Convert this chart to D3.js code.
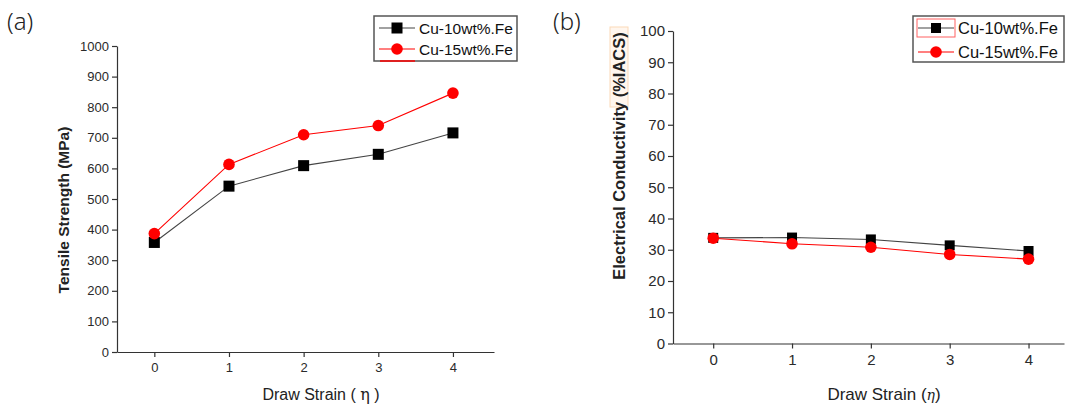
<!DOCTYPE html>
<html>
<head>
<meta charset="utf-8">
<script src="https://cdn.jsdelivr.net/npm/d3@7"></script>
<style>
  body { margin: 0; background: #fff; }
  svg { display: block; font-family: Arial, "Liberation Sans", sans-serif; }
</style>
</head>
<body>
<svg id="chart" width="1066" height="406"></svg>
<script>
'use strict';

// draw strain (eta)
const strains = [0, 1, 2, 3, 4];
const seriesNames = ['Cu-10wt%.Fe', 'Cu-15wt%.Fe'];

// (a) tensile strength, MPa
const tensile10 = [358, 542, 609, 646, 716];
const tensile15 = [387, 613, 710, 740, 846];
const tensileTicks = [0, 100, 200, 300, 400, 500, 600, 700, 800, 900, 1000];

// (b) electrical conductivity, %IACS
const conduct10 = [33.8, 33.9, 33.3, 31.4, 29.6];
const conduct15 = [33.7, 31.9, 30.8, 28.5, 27.0];
const conductTicks = [0, 10, 20, 30, 40, 50, 60, 70, 80, 90, 100];

const AXIS = '#333';
const BLACK = '#000';
const RED = '#ff0000';

const svg = d3.select('#chart');

const drawPanel = (cfg) => {
  const g = svg.append('g');
  const x = d3.scaleLinear().domain(cfg.xDomain).range(cfg.xRange);
  const y = d3.scaleLinear().domain(cfg.yDomain).range(cfg.yRange);

  // axes
  const yAxis = g.append('g')
    .attr('transform', `translate(${cfg.xRange[0]},0)`)
    .call(d3.axisLeft(y).tickValues(cfg.yTicks).tickFormat(d3.format('d'))
      .tickSize(5).tickPadding(3).tickSizeOuter(0));
  const xAxis = g.append('g')
    .attr('transform', `translate(0,${cfg.yRange[0]})`)
    .call(d3.axisBottom(x).tickValues(strains).tickFormat(d3.format('d'))
      .tickSize(5).tickPadding(6).tickSizeOuter(0));
  [xAxis, yAxis].forEach((ax) => {
    ax.select('.domain').attr('stroke', AXIS).attr('stroke-width', 1.2);
    ax.selectAll('.tick line').attr('stroke', AXIS).attr('stroke-width', 1.2);
    ax.selectAll('.tick text')
      .attr('fill', '#2a2a2a')
      .style('font-size', `${cfg.tickFont}px`)
      .style('font-family', 'Arial, "Liberation Sans", sans-serif');
  });

  // series
  const series = [
    { name: seriesNames[0], values: cfg.s10, color: BLACK, line: '#444', shape: 'square' },
    { name: seriesNames[1], values: cfg.s15, color: RED, line: RED, shape: 'circle' },
  ];
  const line = d3.line().x((d, i) => x(strains[i])).y((d) => y(d));
  series.forEach((s) => {
    g.append('path')
      .attr('d', line(s.values))
      .attr('fill', 'none')
      .attr('stroke', s.line)
      .attr('stroke-width', 1.1);
  });
  const drawMarker = (sel, s, cx, cy) => {
    if (s.shape === 'square') {
      sel.append('rect')
        .attr('x', cx - cfg.sq / 2).attr('y', cy - cfg.sq / 2)
        .attr('width', cfg.sq).attr('height', cfg.sq)
        .attr('fill', s.color);
    } else {
      sel.append('circle')
        .attr('cx', cx).attr('cy', cy).attr('r', cfg.r)
        .attr('fill', s.color);
    }
  };
  series.forEach((s) => {
    s.values.forEach((v, i) => drawMarker(g, s, x(strains[i]), y(v)));
  });

  // legend
  const lg = cfg.legend;
  const leg = g.append('g');
  leg.append('rect')
    .attr('x', lg.x).attr('y', lg.y).attr('width', lg.w).attr('height', lg.h)
    .attr('fill', '#fff').attr('stroke', '#555').attr('stroke-width', 1.5);
  series.forEach((s, i) => {
    const ry = lg.y + lg.rows[i];
    leg.append('line')
      .attr('x1', lg.x + 5).attr('x2', lg.x + 41)
      .attr('y1', ry).attr('y2', ry)
      .attr('stroke', s.line).attr('stroke-width', 1.2);
    drawMarker(leg, s, lg.x + 23, ry);
    leg.append('text')
      .attr('x', lg.x + lg.textX).attr('y', ry)
      .attr('dy', '0.36em')
      .attr('fill', '#111')
      .style('font-size', `${lg.font}px`)
      .text(s.name);
  });
  if (lg.underline) {
    leg.append('line')
      .attr('x1', lg.x + 6).attr('x2', lg.x + 41)
      .attr('y1', lg.y + lg.h).attr('y2', lg.y + lg.h)
      .attr('stroke', RED).attr('stroke-width', 1.5);
  }
  if (lg.redBox) {
    leg.append('rect')
      .attr('x', lg.x + 4).attr('y', lg.y + 3).attr('width', 38).attr('height', 18)
      .attr('fill', 'none').attr('stroke', '#ff6060').attr('stroke-width', 1);
  }

  // axis titles
  const midY = (cfg.yRange[0] + cfg.yRange[1]) / 2;
  if (cfg.yHighlight) {
    g.append('rect')
      .attr('x', cfg.yTitleX - 9).attr('y', cfg.yHighlight[0])
      .attr('width', 18).attr('height', cfg.yHighlight[1] - cfg.yHighlight[0])
      .attr('fill', '#fff6ee')
      .attr('stroke', '#fbd9b8')
      .attr('stroke-width', 1);
  }
  g.append('text')
    .attr('transform', `translate(${cfg.yTitleX},${cfg.yTitleY ?? midY}) rotate(-90)`)
    .attr('text-anchor', 'middle')
    .attr('dy', '0.36em')
    .attr('fill', '#222')
    .style('font-size', `${cfg.yTitleFont}px`)
    .style('font-weight', 'bold')
    .text(cfg.yTitle);
  const xt = g.append('text')
    .attr('x', cfg.xTitleX).attr('y', cfg.xTitleY)
    .attr('text-anchor', 'middle')
    .attr('fill', '#222')
    .style('font-size', `${cfg.xTitleFont}px`);
  xt.append('tspan').text(cfg.xTitle[0]);
  xt.append('tspan').style('font-family', 'DejaVu Serif, serif')
    .style('font-style', cfg.etaItalic ? 'italic' : 'normal')
    .style('font-size', `${cfg.xTitleFont - (cfg.etaItalic ? 3 : 0)}px`)
    .text(cfg.xTitle[1]);
  xt.append('tspan').text(cfg.xTitle[2]);

  // panel tag
  g.append('text')
    .attr('x', cfg.tagX).attr('y', 30)
    .attr('fill', '#222')
    .style('font-family', '"Noto Sans", sans-serif')
    .style('font-weight', 300)
    .style('font-size', '24px')
    .text(cfg.tag);
};

drawPanel({
  tag: '(a)', tagX: 7,
  xDomain: [-0.5, 4.55], xRange: [117, 494],
  yDomain: [0, 1000], yRange: [352, 46],
  yTicks: tensileTicks, tickFont: 13,
  s10: tensile10, s15: tensile15,
  sq: 11, r: 5.8,
  yTitle: 'Tensile Strength (MPa)', yTitleX: 63, yTitleY: 210, yTitleFont: 15.5,
  xTitle: ['Draw Strain ( ', 'η', ' )'], xTitleX: 321, xTitleY: 400, xTitleFont: 16,
  etaItalic: false,
  legend: { x: 374, y: 16, w: 143, h: 45, rows: [12, 33], textX: 45, font: 15.5, underline: true },
});

drawPanel({
  tag: '(b)', tagX: 553,
  xDomain: [-0.51, 4.45], xRange: [673, 1064],
  yDomain: [0, 100], yRange: [343.5, 31],
  yTicks: conductTicks, tickFont: 15,
  s10: conduct10, s15: conduct15,
  sq: 10, r: 5.8,
  yTitle: 'Electrical Conductivity (%IACS)', yTitleX: 619, yTitleY: 156, yTitleFont: 16.5,
  yHighlight: [27, 107],
  xTitle: ['Draw Strain (', 'η', ')'], xTitleX: 884, xTitleY: 400, xTitleFont: 17,
  etaItalic: true,
  legend: { x: 913, y: 16, w: 151, h: 46, rows: [12, 36], textX: 45, font: 16.5, redBox: true },
});
</script>
</body>
</html>
